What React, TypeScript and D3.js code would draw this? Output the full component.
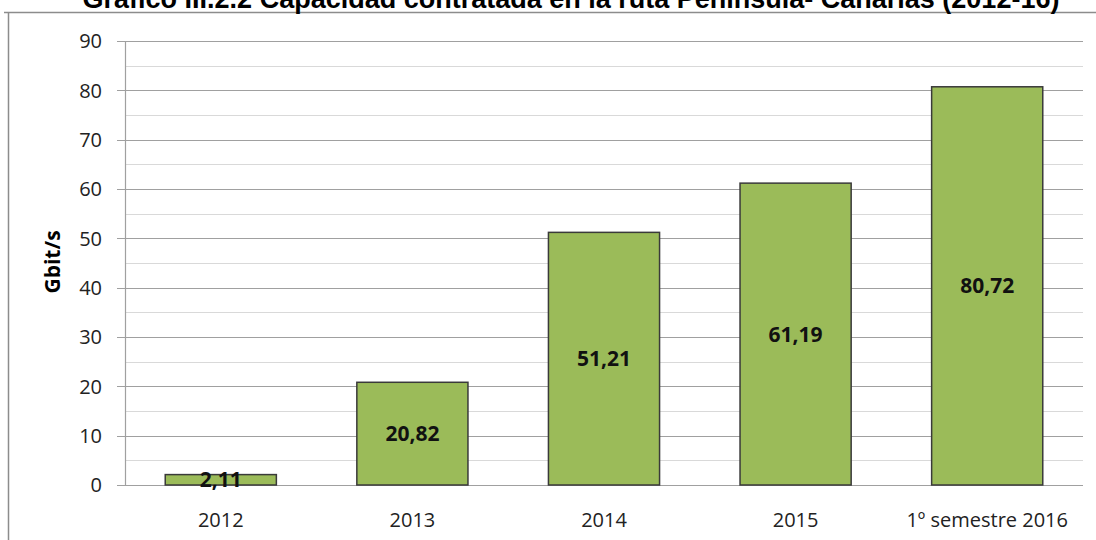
import * as d3 from "d3";
import { useEffect, useRef } from "react";

const categories = ["2012", "2013", "2014", "2015", "1º semestre 2016"];
const values = [2.11, 20.82, 51.21, 61.19, 80.72];
const yTicks = [0, 10, 20, 30, 40, 50, 60, 70, 80, 90];
const minorTicks = [5, 15, 25, 35, 45, 55, 65, 75, 85];

const W = 1096;
const H = 540;

const App = () => {
    const ref = useRef<SVGSVGElement>(null);

    useEffect(() => {
        const svg = d3.select(ref.current);
        svg.selectAll("*").remove();

        const margin = { top: 41, bottom: 55, left: 125, right: 13 };
        const plotW = W - margin.left - margin.right;
        const plotH = H - margin.top - margin.bottom;

        const x = d3.scaleBand().domain(categories).range([0, plotW]).paddingInner(0.42).paddingOuter(0.21);
        const y = d3.scaleLinear().domain([0, 90]).range([plotH, 0]);

        // marco
        svg.append("line").attr("x1", 4).attr("x2", W).attr("y1", 12.5).attr("y2", 12.5)
            .attr("stroke", "#8c8c8c").attr("stroke-width", 1.5);
        svg.append("line").attr("x1", 8.5).attr("x2", 8.5).attr("y1", 12).attr("y2", H)
            .attr("stroke", "#8c8c8c").attr("stroke-width", 1.5);

        // título (cortado arriba, como en el original)
        svg.append("text")
            .attr("x", 571).attr("y", 8)
            .attr("text-anchor", "middle")
            .style("font-family", "Liberation Sans, Arial, sans-serif")
            .style("font-weight", "bold")
            .style("font-size", "27px")
            .text("Gráfico III.2.2 Capacidad contratada en la ruta Península- Canarias (2012-16)");

        const g = svg.append("g").attr("transform", `translate(${margin.left},${margin.top})`);

        // rejilla secundaria
        g.selectAll(".minor").data(minorTicks).enter().append("line")
            .attr("x1", 0).attr("x2", plotW)
            .attr("y1", d => Math.round(y(d)) + 0.5).attr("y2", d => Math.round(y(d)) + 0.5)
            .attr("stroke", "#d9d9d9").attr("stroke-width", 1);

        // rejilla principal
        g.selectAll(".major").data(yTicks).enter().append("line")
            .attr("x1", -8).attr("x2", plotW)
            .attr("y1", d => Math.round(y(d)) + 0.5).attr("y2", d => Math.round(y(d)) + 0.5)
            .attr("stroke", "#a0a0a0").attr("stroke-width", 1.2);

        g.append("line").attr("x1", 0.5).attr("x2", 0.5).attr("y1", 0).attr("y2", plotH)
            .attr("stroke", "#a0a0a0").attr("stroke-width", 1.2);

        // etiquetas eje Y
        g.selectAll(".ytick").data(yTicks).enter().append("text")
            .attr("x", -23).attr("y", d => y(d))
            .attr("dy", "0.36em")
            .attr("text-anchor", "end")
            .style("font-family", "Open Sans, sans-serif")
            .style("font-size", "20px")
            .style("fill", "#222")
            .text(d => d);

        // barras
        g.selectAll(".bar").data(values).enter().append("rect")
            .attr("x", (d, i) => x(categories[i])!)
            .attr("y", d => y(d))
            .attr("width", x.bandwidth())
            .attr("height", d => plotH - y(d))
            .attr("fill", "#9bbb59")
            .attr("stroke", "#3a3a3a")
            .attr("stroke-width", 1.5);

        // valores
        g.selectAll(".lbl").data(values).enter().append("text")
            .attr("x", (d, i) => x(categories[i])! + x.bandwidth() / 2)
            .attr("y", d => (y(d) + plotH) / 2)
            .attr("dy", "0.36em")
            .attr("text-anchor", "middle")
            .style("font-family", "Open Sans, sans-serif")
            .style("font-weight", "bold")
            .style("font-size", "21px")
            .style("fill", "#111")
            .text(d => d.toFixed(2).replace(".", ","));

        // etiquetas eje X
        g.selectAll(".xtick").data(categories).enter().append("text")
            .attr("x", d => x(d)! + x.bandwidth() / 2)
            .attr("y", plotH + 42)
            .attr("text-anchor", "middle")
            .style("font-family", "Open Sans, sans-serif")
            .style("font-size", "20px")
            .style("fill", "#222")
            .text(d => d);

        // título eje Y
        svg.append("text")
            .attr("transform", `translate(60, 262) rotate(-90)`)
            .attr("text-anchor", "middle")
            .style("font-family", "Open Sans, sans-serif")
            .style("font-weight", "bold")
            .style("font-size", "21px")
            .text("Gbit/s");
    }, []);

    return (
        <svg ref={ref} width={W} height={H} style={{ position: "absolute", left: 0, top: 0, background: "#fff" }}></svg>
    );
};

export default App;
